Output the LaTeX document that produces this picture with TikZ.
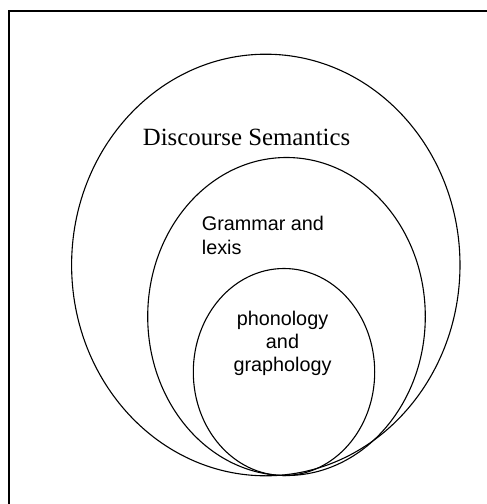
\documentclass[tikz,border=0pt]{standalone}
\usepackage{fontspec}
\usetikzlibrary{shapes.geometric}
\setmainfont{Liberation Serif}
\newfontfamily\labelsans{Liberation Sans}
\begin{document}
\begin{tikzpicture}[x=1pt,y=-1pt,
  ring/.style={draw=black,line width=1.1pt,ellipse,inner sep=0pt},
  frameline/.style={draw=black,line width=1.7pt},
  serifhead/.style={inner sep=0pt,anchor=base west,font=\fontsize{24.8}{28}\selectfont},
  sanslabel/.style={inner sep=0pt,font=\labelsans\fontsize{19.8}{23.3}\selectfont}]
  \useasboundingbox (0,0) rectangle (487,504);
  \clip (0,0) rectangle (487,504);
  \fill[white] (0,0) rectangle (487,504);
  % frame (only its top and left sides fall on the page)
  \draw[frameline] (9,530) -- (9,11) -- (520,11);
  % nested strata
  \node[ring,minimum width=388.4pt,minimum height=421.6pt] (ds) at (265.8,265) {};
  \node[ring,minimum width=277.6pt,minimum height=318pt] (gl) at (286.5,316.5) {};
  \node[ring,minimum width=181.4pt,minimum height=207pt] (pg) at (284,372) {};
  % labels (base anchor sits on the last line of a multi-line node)
  \node[serifhead] (dslabel) at (142.7,145.7) {Discourse Semantics};
  \node[sanslabel,align=left,anchor=base west] (gllabel) at (201.7,254) {Grammar and\\lexis};
  \node[sanslabel,align=center,anchor=base] (pglabel) at (282.5,371.7) {phonology\\and\\graphology};
\end{tikzpicture}
\end{document}
